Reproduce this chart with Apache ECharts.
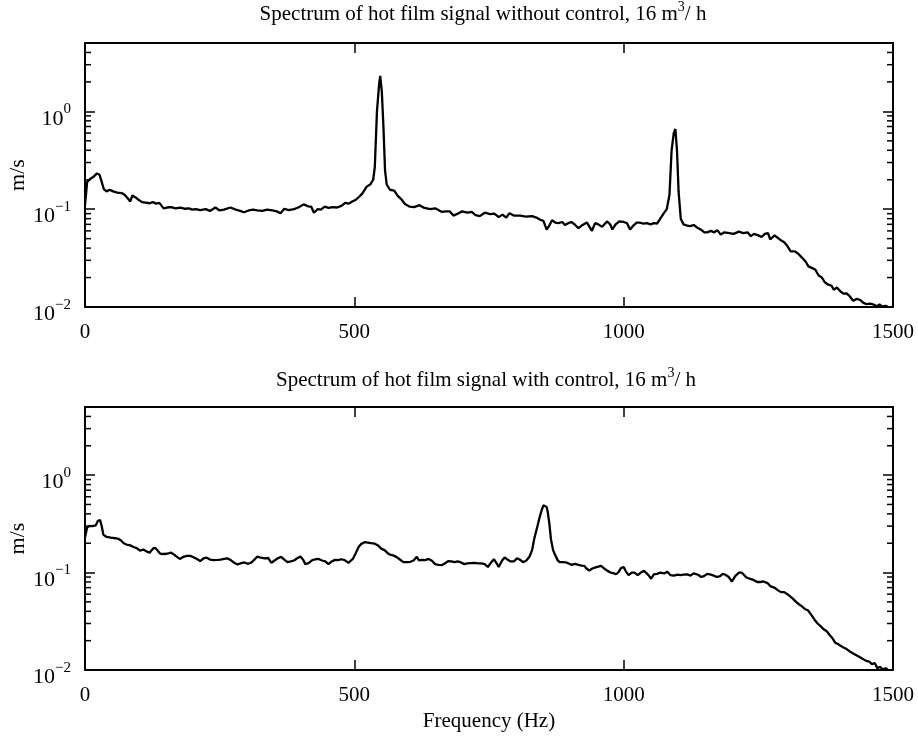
<!DOCTYPE html>
<html>
<head>
<meta charset="utf-8">
<script src="https://cdn.jsdelivr.net/npm/echarts@6/dist/echarts.min.js"></script>
<style>html,body{margin:0;padding:0;background:#fff;}#c{width:918px;height:738px;}</style>
</head>
<body>
<div id="c"></div>
<script>
// ---- data ----
var topTitle = 'Spectrum of hot film signal without control, 16 m{s|3}/ h';
var botTitle = 'Spectrum of hot film signal with control, 16 m{s|3}/ h';
var xTicks = [0, 500, 1000, 1500];
var yDecades = [0.01, 0.1, 1];
var minorTicks = [0.02,0.03,0.04,0.05,0.06,0.07,0.08,0.09,0.2,0.3,0.4,0.5,0.6,0.7,0.8,0.9,2,3,4];

var topFreq = [0,4,10,16,22,27,31,35,40,46,52,60,68,74,80,84,88,94,100,106,112,120,126,132,138,146,152,160,168,177,186,193,199,206,214,224,232,242,250,258,270,280,288,295,304,312,320,329,338,348,356,363,370,378,388,396,406,414,420,425,432,438,445,452,460,468,476,483,490,496,503,509,515,523,530,535,538,542,546,548,551,554,557,560,566,574,581,588,594,603,611,621,630,641,650,662,670,677,684,692,700,710,718,725,733,742,752,760,768,775,782,788,796,808,818,830,838,845,851,857,862,867,873,879,886,891,897,903,910,916,922,932,941,947,953,960,969,975,979,985,992,1000,1006,1012,1018,1024,1030,1037,1043,1050,1056,1062,1068,1074,1080,1085,1089,1093,1096,1099,1102,1106,1111,1118,1124,1130,1136,1143,1150,1155,1162,1168,1174,1180,1187,1196,1204,1214,1222,1230,1236,1242,1250,1256,1262,1268,1272,1280,1286,1292,1298,1304,1310,1318,1324,1331,1338,1343,1350,1356,1362,1368,1373,1379,1386,1390,1396,1402,1408,1414,1420,1426,1433,1439,1445,1451,1458,1464,1470,1475,1480,1486,1490];
var topVal = [0.11,0.19,0.205,0.215,0.232,0.225,0.19,0.16,0.152,0.158,0.152,0.148,0.146,0.14,0.128,0.12,0.138,0.132,0.124,0.118,0.117,0.115,0.118,0.114,0.116,0.102,0.104,0.105,0.102,0.104,0.101,0.102,0.099,0.1,0.098,0.1,0.096,0.104,0.097,0.099,0.104,0.099,0.096,0.093,0.097,0.099,0.097,0.096,0.099,0.097,0.095,0.091,0.101,0.098,0.1,0.104,0.112,0.107,0.106,0.092,0.1,0.099,0.106,0.103,0.105,0.104,0.108,0.116,0.114,0.12,0.125,0.134,0.145,0.17,0.18,0.2,0.27,1.0,1.9,2.3,1.6,0.7,0.25,0.18,0.158,0.155,0.136,0.125,0.113,0.106,0.105,0.11,0.103,0.1,0.102,0.094,0.095,0.095,0.086,0.09,0.095,0.092,0.094,0.087,0.085,0.092,0.089,0.09,0.083,0.088,0.082,0.091,0.086,0.086,0.084,0.085,0.082,0.078,0.076,0.062,0.068,0.077,0.073,0.072,0.074,0.069,0.072,0.074,0.069,0.064,0.068,0.073,0.06,0.072,0.07,0.066,0.075,0.07,0.062,0.07,0.075,0.074,0.072,0.062,0.068,0.073,0.073,0.071,0.072,0.07,0.072,0.071,0.08,0.09,0.1,0.14,0.4,0.6,0.66,0.4,0.15,0.08,0.07,0.068,0.067,0.069,0.065,0.062,0.058,0.058,0.06,0.058,0.061,0.055,0.058,0.057,0.056,0.059,0.057,0.058,0.053,0.056,0.054,0.052,0.056,0.057,0.049,0.054,0.051,0.048,0.046,0.042,0.037,0.037,0.035,0.032,0.029,0.026,0.025,0.024,0.021,0.02,0.018,0.017,0.0165,0.015,0.0158,0.0145,0.0137,0.0138,0.0128,0.0116,0.0121,0.0118,0.011,0.0107,0.0108,0.0106,0.0102,0.0106,0.0101,0.0103,0.0101];

var botFreq = [0,4,8,14,20,24,28,31,34,40,48,56,62,66,72,77,84,90,96,102,108,114,120,124,128,132,136,140,148,155,160,166,172,176,183,189,196,202,208,214,220,226,232,239,246,252,258,264,270,276,283,290,296,302,308,314,320,326,334,340,346,352,358,364,370,376,382,388,394,400,405,409,415,422,428,434,440,446,452,458,464,470,476,482,489,494,498,503,508,513,519,525,531,538,544,550,556,562,566,572,578,584,591,598,604,610,616,620,626,632,638,644,650,656,662,668,674,680,686,692,698,704,710,716,723,730,736,742,748,753,759,764,768,774,779,785,790,796,802,808,813,819,825,830,834,840,844,848,851,854,857,859,862,865,869,872,877,881,887,893,898,903,910,916,922,927,931,936,942,948,953,958,964,970,976,982,986,991,995,1000,1004,1009,1015,1020,1026,1032,1038,1041,1046,1051,1056,1062,1068,1075,1081,1087,1093,1100,1106,1111,1118,1124,1130,1133,1138,1144,1149,1155,1160,1167,1173,1179,1184,1189,1195,1201,1207,1214,1219,1223,1228,1235,1241,1248,1254,1260,1267,1273,1280,1286,1292,1298,1304,1309,1314,1320,1326,1331,1337,1342,1348,1354,1360,1366,1372,1377,1382,1388,1393,1398,1402,1408,1414,1420,1426,1432,1438,1444,1450,1456,1461,1466,1471,1476,1481,1486,1490];
var botVal = [0.23,0.29,0.302,0.3,0.305,0.34,0.345,0.3,0.245,0.232,0.228,0.225,0.222,0.215,0.2,0.194,0.19,0.183,0.178,0.168,0.172,0.165,0.16,0.17,0.18,0.176,0.165,0.156,0.155,0.157,0.16,0.152,0.143,0.138,0.145,0.148,0.148,0.143,0.138,0.131,0.14,0.142,0.136,0.134,0.135,0.136,0.138,0.14,0.135,0.127,0.121,0.125,0.127,0.123,0.126,0.135,0.146,0.142,0.14,0.141,0.126,0.133,0.14,0.145,0.136,0.128,0.13,0.133,0.14,0.146,0.135,0.122,0.125,0.134,0.137,0.138,0.133,0.13,0.122,0.13,0.135,0.134,0.137,0.134,0.126,0.133,0.14,0.16,0.183,0.197,0.205,0.203,0.2,0.198,0.19,0.176,0.17,0.158,0.153,0.15,0.145,0.137,0.128,0.128,0.129,0.133,0.145,0.133,0.135,0.134,0.138,0.132,0.122,0.12,0.119,0.124,0.131,0.13,0.128,0.13,0.127,0.122,0.124,0.125,0.126,0.124,0.124,0.122,0.114,0.125,0.137,0.125,0.114,0.132,0.143,0.135,0.13,0.13,0.14,0.135,0.128,0.132,0.145,0.17,0.222,0.3,0.37,0.44,0.49,0.51,0.47,0.42,0.32,0.22,0.17,0.155,0.135,0.128,0.128,0.127,0.124,0.12,0.123,0.12,0.118,0.117,0.11,0.105,0.11,0.113,0.115,0.117,0.11,0.104,0.1,0.098,0.096,0.102,0.111,0.114,0.103,0.094,0.1,0.1,0.094,0.1,0.104,0.103,0.094,0.0865,0.096,0.097,0.1,0.098,0.102,0.094,0.093,0.095,0.094,0.095,0.096,0.093,0.098,0.099,0.095,0.09,0.092,0.097,0.096,0.093,0.09,0.092,0.097,0.095,0.09,0.081,0.092,0.1,0.1,0.095,0.089,0.086,0.084,0.08,0.08,0.081,0.078,0.072,0.07,0.066,0.063,0.063,0.06,0.057,0.054,0.05,0.047,0.045,0.042,0.041,0.037,0.033,0.03,0.028,0.026,0.025,0.023,0.021,0.019,0.0185,0.0178,0.017,0.0164,0.0155,0.0148,0.0142,0.0136,0.013,0.0124,0.0122,0.0115,0.0118,0.0104,0.0108,0.0101,0.0104,0.0102];

function zip(a, b) { return a.map(function (f, i) { return [f, b[i]]; }); }

var FONT = 'Liberation Serif';
var FS = 21;

function decadeLabel(v) {
  var e = Math.round(Math.log10(v));
  var ok = yDecades.some(function (d) { return Math.abs(d - v) / d < 1e-6; });
  if (!ok) return '';
  return '{b|10}{s|' + (e < 0 ? '\u2212' + (-e) : String(e)) + '}';
}

var yRich = {
  b: { fontFamily: FONT, fontSize: 22, color: '#000', lineHeight: 28, verticalAlign: 'bottom' },
  s: { fontFamily: FONT, fontSize: 15, color: '#000', verticalAlign: 'top', lineHeight: 14 }
};

function xAxisPair(gi, showName) {
  var common = {
    type: 'value', gridIndex: gi, min: 0, max: 1500, interval: 500,
    splitLine: { show: false },
    axisLine: { show: true, onZero: false, lineStyle: { color: '#000', width: 2 } },
    axisTick: { show: true, inside: true, length: 10, lineStyle: { color: '#000', width: 1.5 } }
  };
  var bottom = Object.assign({}, common, {
    position: 'bottom',
    axisLabel: { show: true, margin: 15, fontFamily: FONT, fontSize: FS, color: '#000',
      showMinLabel: true, showMaxLabel: true,
      formatter: function (v) { return xTicks.indexOf(v) >= 0 ? String(v) : ''; } },
    name: showName ? 'Frequency (Hz)' : '',
    nameLocation: 'middle', nameGap: 41,
    nameTextStyle: { fontFamily: FONT, fontSize: FS, color: '#000' }
  });
  var top = Object.assign({}, common, { position: 'top', axisLabel: { show: false } });
  return [bottom, top];
}

function yAxisPair(gi) {
  var common = {
    type: 'log', logBase: 10, gridIndex: gi, min: 0.01, max: 5,
    splitLine: { show: false },
    minorTick: { show: false },
    axisLine: { show: true, onZero: false, lineStyle: { color: '#000', width: 2 } },
    axisTick: { show: true, inside: true, length: 10, lineStyle: { color: '#000', width: 1.5 } }
  };
  var left = Object.assign({}, common, {
    position: 'left',
    axisLabel: { show: true, margin: 14, formatter: decadeLabel, rich: yRich,
      padding: [9, 0, 0, 0], showMinLabel: true, showMaxLabel: true },
    name: 'm/s', nameLocation: 'middle', nameGap: 56, nameRotate: 90, nameMoveOverlap: false,
    nameTextStyle: { fontFamily: FONT, fontSize: 22, color: '#000' }
  });
  var right = Object.assign({}, common, { position: 'right', axisLabel: { show: false } });
  return [left, right];
}

function minorTickSeries(gi) {
  return {
    type: 'custom', xAxisIndex: gi * 2, yAxisIndex: gi * 2, silent: true, clip: false,
    z: 5,
    data: minorTicks.map(function (v) { return [0, v]; }),
    renderItem: function (params, api) {
      var cs = params.coordSys;
      var y = api.coord([0, api.value(1)])[1];
      var st = { stroke: '#000', lineWidth: 1.5 };
      return {
        type: 'group', children: [
          { type: 'line', shape: { x1: cs.x, y1: y, x2: cs.x + 6, y2: y }, style: st },
          { type: 'line', shape: { x1: cs.x + cs.width, y1: y, x2: cs.x + cs.width - 6, y2: y }, style: st }
        ]
      };
    }
  };
}

var titleStyle = {
  fontFamily: FONT, fontSize: FS, fontWeight: 'normal', color: '#000', lineHeight: 28,
  rich: { s: { fontFamily: FONT, fontSize: 14, color: '#000', verticalAlign: 'top', lineHeight: 13 } }
};

var chart = echarts.init(document.getElementById('c'), null, { renderer: 'canvas' });
var xs0 = xAxisPair(0, false), xs1 = xAxisPair(1, true);
var ys0 = yAxisPair(0), ys1 = yAxisPair(1);
chart.setOption({
  animation: false,
  backgroundColor: '#fff',
  title: [
    { text: topTitle, left: 483, top: 0, textAlign: 'center', padding: 0, textStyle: titleStyle },
    { text: botTitle, left: 486, top: 366, textAlign: 'center', padding: 0, textStyle: titleStyle }
  ],
  grid: [
    { left: 85, top: 43, width: 808, height: 264, outerBoundsMode: 'none', containLabel: false },
    { left: 85, top: 407, width: 808, height: 263, outerBoundsMode: 'none', containLabel: false }
  ],
  xAxis: [xs0[0], xs0[1], xs1[0], xs1[1]],
  yAxis: [ys0[0], ys0[1], ys1[0], ys1[1]],
  series: [
    { type: 'line', xAxisIndex: 0, yAxisIndex: 0, data: zip(topFreq, topVal), showSymbol: false,
      lineStyle: { color: '#000', width: 2.3 }, itemStyle: { color: '#000' } },
    { type: 'line', xAxisIndex: 2, yAxisIndex: 2, data: zip(botFreq, botVal), showSymbol: false,
      lineStyle: { color: '#000', width: 2.3 }, itemStyle: { color: '#000' } },
    minorTickSeries(0),
    minorTickSeries(1)
  ]
});
</script>
</body>
</html>
